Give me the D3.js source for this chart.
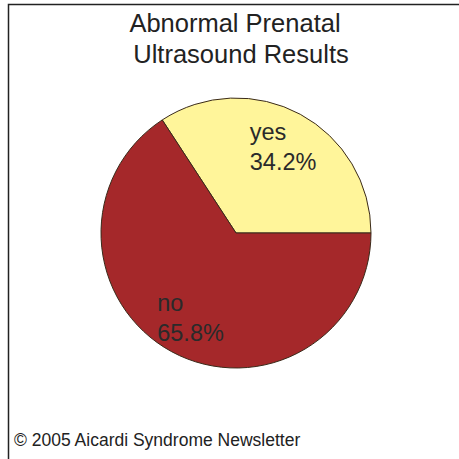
<!DOCTYPE html>
<html>
<head>
<meta charset="utf-8">
<script src="https://cdn.jsdelivr.net/npm/d3@7"></script>
<style>
  html, body { margin: 0; padding: 0; background: #fff; }
  svg { display: block; font-family: "Liberation Sans", Arial, sans-serif; }
</style>
</head>
<body>
<svg id="chart" width="459" height="459"></svg>
<script>
// === DATA ======================================================
const categories = ["yes", "no"];
const percents = [34.2, 65.8];
const colors = ["#fff59a", "#a5282a"];
const titleLines = ["Abnormal Prenatal", "Ultrasound Results"];
const footnote = "\u00a9 2005 Aicardi Syndrome Newsletter";

// === LAYOUT ====================================================
const svg = d3.select("#chart");
const cx = 236, cy = 233, radius = 135;

// frame (left + top edges only visible)
svg.append("path")
    .attr("d", "M8.5,459 L8.5,4.5 L459,4.5")
    .attr("fill", "none")
    .attr("stroke", "#222")
    .attr("stroke-width", 1.5);

// title (second line sits a touch to the right)
const titleX = [235, 241];
svg.append("text")
    .attr("text-anchor", "middle")
    .attr("font-size", 25.5)
    .attr("fill", "#222")
    .selectAll("tspan")
    .data(titleLines)
    .enter()
    .append("tspan")
    .attr("x", (d, i) => titleX[i])
    .attr("y", (d, i) => 32 + i * 31)
    .text(d => d);

// pie: first slice starts at 3 o'clock and runs counter-clockwise
const data = categories.map((c, i) => ({ label: c, value: percents[i], color: colors[i] }));

const pie = d3.pie()
    .value(d => d.value)
    .sort(null)
    .startAngle(Math.PI / 2)
    .endAngle(Math.PI / 2 - 2 * Math.PI);

const arc = d3.arc().innerRadius(0).outerRadius(radius);
const labelArc = d3.arc().innerRadius(0).outerRadius(radius * 1.3);

const g = svg.append("g").attr("transform", `translate(${cx},${cy})`);

const slices = pie(data);

g.selectAll("path.slice")
    .data(slices)
    .enter()
    .append("path")
    .attr("class", "slice")
    .attr("d", arc)
    .attr("fill", d => d.data.color)
    .attr("stroke", "#3a2a1a")
    .attr("stroke-width", 1);

// labels (left aligned two-line blocks)
const labelShift = { yes: [-28, -16], no: [-37, 1] };

const lab = g.selectAll("text.lbl")
    .data(slices)
    .enter()
    .append("text")
    .attr("class", "lbl")
    .attr("font-size", 23.5)
    .attr("fill", "#2a2a2a")
    .attr("transform", d => {
        const c = labelArc.centroid(d);
        const s = labelShift[d.data.label];
        return `translate(${c[0] + s[0]},${c[1] + s[1]})`;
    });

lab.append("tspan").attr("x", 0).attr("y", 0).text(d => d.data.label);
lab.append("tspan").attr("x", 0).attr("y", 30).text(d => d.data.value.toFixed(1) + "%");

// footnote
svg.append("text")
    .attr("x", 14)
    .attr("y", 446)
    .attr("font-size", 17.5)
    .attr("fill", "#222")
    .text(footnote);
</script>
</body>
</html>
